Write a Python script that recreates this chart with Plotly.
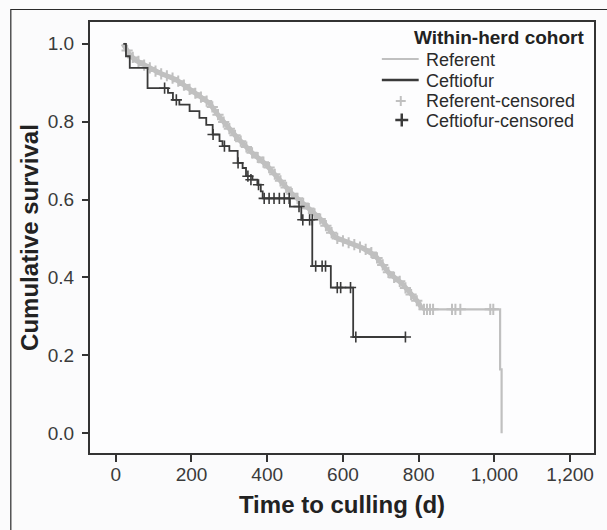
import plotly.graph_objects as go

# ---------------- data ----------------
# Referent survival curve (dense KM curve, drawn as line)
ref_t = [19, 35, 50, 81, 116, 160, 203, 247, 274, 318, 361, 397, 432, 467, 511,
         546, 581, 616, 651, 686, 721, 756, 783, 800, 809, 1015, 1015, 1019, 1019]
ref_s = [1.0, 0.975, 0.959, 0.942, 0.925, 0.908, 0.878, 0.848, 0.812, 0.762, 0.719,
         0.69, 0.651, 0.613, 0.576, 0.545, 0.502, 0.489, 0.476, 0.455, 0.412, 0.384,
         0.352, 0.335, 0.318, 0.318, 0.164, 0.164, 0.0]

# Referent censored observations
ref_cens_t = [30, 45, 60, 75, 90, 105, 120, 135, 150, 165, 180, 195, 210, 225, 240,
              255, 270, 285, 300, 315, 330, 345, 360, 375, 390, 405, 420, 435, 450,
              465, 480, 495, 510, 525, 540, 555, 570, 585, 600, 615, 630, 645, 660,
              675, 690, 705, 720, 735, 750, 765, 780, 795,
              814, 822, 830, 838, 888, 897, 910, 989, 997]
ref_cens_s = [0.983, 0.965, 0.955, 0.945, 0.938, 0.930, 0.923, 0.918, 0.912, 0.904,
              0.894, 0.883, 0.873, 0.863, 0.853, 0.838, 0.818, 0.799, 0.782, 0.765,
              0.750, 0.735, 0.720, 0.708, 0.696, 0.682, 0.665, 0.648, 0.631, 0.615,
              0.603, 0.590, 0.577, 0.563, 0.550, 0.533, 0.515, 0.500, 0.494, 0.489,
              0.484, 0.478, 0.472, 0.464, 0.450, 0.432, 0.413, 0.400, 0.390, 0.373,
              0.356, 0.340,
              0.318, 0.318, 0.318, 0.318, 0.318, 0.318, 0.318, 0.318, 0.318]

# Ceftiofur survival (step function)
cef_t = [20, 27, 37, 84, 138, 151, 168, 195, 221, 239, 256, 274, 282, 300, 322,
         335, 344, 361, 374, 383, 388, 460, 490, 519, 568, 627, 765]
cef_s = [1.0, 0.968, 0.938, 0.886, 0.874, 0.856, 0.844, 0.827, 0.81, 0.792, 0.767,
         0.75, 0.737, 0.725, 0.694, 0.681, 0.66, 0.651, 0.638, 0.621, 0.603, 0.582,
         0.548, 0.429, 0.374, 0.247, 0.247]

# Ceftiofur censored observations
cef_cens_t = [129, 160, 257, 287, 323, 349, 357, 377, 392, 405, 418, 432, 445, 458,
              484, 494, 512, 519, 528, 545, 554, 585, 594, 620, 634, 765]
cef_cens_s = [0.886, 0.856, 0.767, 0.737, 0.694, 0.66, 0.651, 0.638, 0.603, 0.603,
              0.603, 0.603, 0.603, 0.603, 0.582, 0.548, 0.548, 0.548, 0.429, 0.429,
              0.429, 0.374, 0.374, 0.374, 0.247, 0.247]

series_names = ["Referent", "Ceftiofur", "Referent-censored", "Ceftiofur-censored"]
legend_title = "Within-herd cohort"
x_ticks = [0, 200, 400, 600, 800, 1000, 1200]
y_ticks = [0.0, 0.2, 0.4, 0.6, 0.8, 1.0]

# ---------------- styling ----------------
REF_COL = "#c0c0c0"
CEF_COL = "#3a3a3a"
AXIS_COL = "#333333"
FONT = "Liberation Sans, Arial, sans-serif"

W, H = 607, 530
ML, MR, MT, MB = 90, 11, 22, 77
PW, PH = W - ML - MR, H - MT - MB


def px(X):
    return (X - ML) / PW


def py(Y):
    return (H - MB - Y) / PH


# split the referent curve: dense (thick band) part and flat tail
split = ref_t.index(809) + 1

fig = go.Figure()

fig.add_trace(go.Scatter(x=ref_t[:split], y=ref_s[:split], mode="lines", name=series_names[0],
                         line=dict(color=REF_COL, width=5), showlegend=False))
fig.add_trace(go.Scatter(x=ref_t[split - 1:], y=ref_s[split - 1:], mode="lines",
                         name=series_names[0], line=dict(color=REF_COL, width=2.2),
                         showlegend=False))
fig.add_trace(go.Scatter(x=ref_cens_t, y=ref_cens_s, mode="markers", name=series_names[2],
                         marker=dict(symbol="cross-thin", size=8,
                                     line=dict(color=REF_COL, width=2)),
                         showlegend=False))
fig.add_trace(go.Scatter(x=cef_t, y=cef_s, mode="lines", name=series_names[1],
                         line=dict(color=CEF_COL, width=1.8, shape="hv"), showlegend=False))
fig.add_trace(go.Scatter(x=cef_cens_t, y=cef_cens_s, mode="markers", name=series_names[3],
                         marker=dict(symbol="cross-thin", size=8,
                                     line=dict(color=CEF_COL, width=1.6)),
                         showlegend=False))

# ---------------- manual legend ----------------
shapes = []
annotations = []

# outer figure frame (left/top edges visible)
shapes.append(dict(type="rect", xref="paper", yref="paper",
                   x0=px(10.5), x1=px(640), y0=py(560), y1=py(9.5),
                   line=dict(color="#2a2a2a", width=1.2), layer="below"))

annotations.append(dict(xref="paper", yref="paper", x=px(588), y=py(37.5),
                        xanchor="right", yanchor="middle", showarrow=False,
                        text="<b>" + legend_title + "</b>",
                        font=dict(family=FONT, size=19, color="#222222")))
item_y = [60.5, 80.5, 100.5, 120.5]
for name, yy in zip(series_names, item_y):
    annotations.append(dict(xref="paper", yref="paper", x=px(425), y=py(yy),
                            xanchor="left", yanchor="middle", showarrow=False,
                            text=name, font=dict(family=FONT, size=18, color="#2b2b2b")))

# legend line samples
shapes.append(dict(type="line", xref="paper", yref="paper", x0=px(383), x1=px(420),
                   y0=py(59), y1=py(59), line=dict(color=REF_COL, width=2)))
shapes.append(dict(type="line", xref="paper", yref="paper", x0=px(383), x1=px(420),
                   y0=py(80), y1=py(80), line=dict(color=CEF_COL, width=2.5)))
# legend plus samples
for cx, cy, hw, col, lw in [(402, 101, 5, REF_COL, 2), (403, 120, 6.5, CEF_COL, 2.5)]:
    shapes.append(dict(type="line", xref="paper", yref="paper", x0=px(cx - hw), x1=px(cx + hw),
                       y0=py(cy), y1=py(cy), line=dict(color=col, width=lw)))
    shapes.append(dict(type="line", xref="paper", yref="paper", x0=px(cx), x1=px(cx),
                       y0=py(cy - hw), y1=py(cy + hw), line=dict(color=col, width=lw)))

fig.update_layout(
    width=W, height=H,
    margin=dict(l=ML, r=MR, t=MT, b=MB),
    paper_bgcolor="#fbfbfc",
    plot_bgcolor="#fdfdfe",
    font=dict(family=FONT, color="#333333"),
    showlegend=False,
    shapes=shapes,
    annotations=annotations,
    xaxis=dict(range=[-68, 1263], tickvals=x_ticks, tickformat=",", ticks="outside",
               ticklen=7, tickwidth=1.5, tickcolor=AXIS_COL, ticklabelstandoff=-4,
               showline=True, linecolor=AXIS_COL, linewidth=2, mirror=True,
               showgrid=False, zeroline=False,
               tickfont=dict(family=FONT, size=19, color="#3a3a3a"),
               title=dict(text="<b>Time to culling (d)</b>", standoff=12,
                          font=dict(family=FONT, size=24, color="#222222"))),
    yaxis=dict(range=[-0.051, 1.056], tickvals=y_ticks, tickformat=".1f", ticks="outside",
               ticklen=6, tickwidth=1.5, tickcolor=AXIS_COL, ticklabelstandoff=4,
               showline=True, linecolor=AXIS_COL, linewidth=2, mirror=True,
               showgrid=False, zeroline=False,
               tickfont=dict(family=FONT, size=19, color="#3a3a3a"),
               title=dict(text="<b>Cumulative survival</b>", standoff=2,
                          font=dict(family=FONT, size=24, color="#222222"))),
)

fig.write_html("out.html", config={"displayModeBar": False},
               post_script="document.body.style.margin='0';")
